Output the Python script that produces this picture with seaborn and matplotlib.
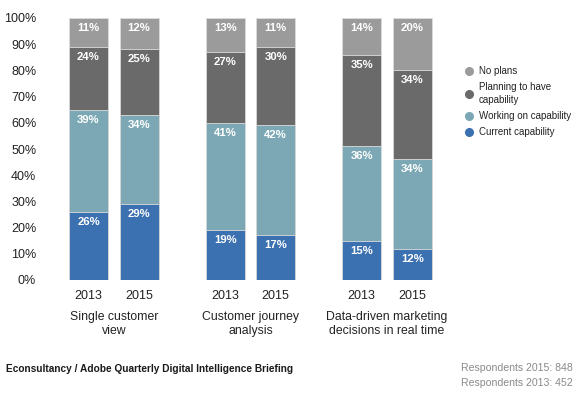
import numpy as np
import pandas as pd
import matplotlib
matplotlib.use("Agg")
import matplotlib.pyplot as plt
from matplotlib.lines import Line2D
import seaborn as sns

# ---- data ----
groups = ["Single customer\nview", "Customer journey\nanalysis", "Data-driven marketing\ndecisions in real time"]
years = ["2013", "2015"]
series = ["No plans", "Planning to have\ncapability", "Working on capability", "Current capability"]
current = [26, 29, 19, 17, 15, 12]
working = [39, 34, 41, 42, 36, 34]
planning = [24, 25, 27, 30, 35, 34]
no_plans = [11, 12, 13, 11, 14, 20]
positions = [0, 1, 2.7, 3.7, 5.4, 6.4]

colors = {"no": "#9b9b9b", "plan": "#6a6a6a", "work": "#7ba8b4", "cur": "#3b71b1"}

sns.set_theme(style="white")
plt.rcParams["font.family"] = ["Liberation Sans", "DejaVu Sans"]

fig = plt.figure(figsize=(5.8, 3.95), dpi=100)
ax = fig.add_axes([48 / 580, 115 / 395, (442.7 - 48) / 580, 262 / 395])

layers = [current, working, planning, no_plans]
cum = np.cumsum(np.array(layers, dtype=float), axis=0)
layer_colors = [colors["cur"], colors["work"], colors["plan"], colors["no"]]

# draw from top (full stack) down
for i in range(3, -1, -1):
    df = pd.DataFrame({"pos": positions, "val": cum[i]})
    sns.barplot(data=df, x="pos", y="val", native_scale=True, width=0.77,
                color=layer_colors[i], saturation=1, edgecolor="#dcdcdc",
                linewidth=0.6, ax=ax, errorbar=None)

# segment labels
for i in range(4):
    for j, p in enumerate(positions):
        ax.annotate(f"{layers[i][j]}%", xy=(p, cum[i][j]), xytext=(0, -10),
                    textcoords="offset pixels", ha="center", va="center",
                    color="white", fontsize=8.2, fontweight="bold")

ax.set_xlim(-0.8, 7.0)
ax.set_ylim(0, 100)
ax.set_yticks(np.arange(0, 101, 10))
ax.set_yticklabels([f"{v}%" for v in range(0, 101, 10)])
ax.set_xticks(positions)
ax.set_xticklabels(years * 3)
ax.tick_params(axis="y", length=0, pad=8.5, labelsize=9, labelcolor="#222222")
ax.tick_params(axis="x", length=0, pad=7, labelsize=9, labelcolor="#222222")
ax.set_xlabel("")
ax.set_ylabel("")
for s in ax.spines.values():
    s.set_visible(False)

# group labels
for g, lab in enumerate(groups):
    cx = (positions[2 * g] + positions[2 * g + 1]) / 2
    ax.annotate(lab, xy=(cx, 0), xycoords=("data", "axes fraction"),
                xytext=(0, -44), textcoords="offset pixels", ha="center",
                va="center", fontsize=8.8, color="#222222", linespacing=1.3)

# legend
handles = [Line2D([], [], marker="o", linestyle="", markersize=5.5,
                  markerfacecolor=c, markeredgecolor=c)
           for c in [colors["no"], colors["plan"], colors["work"], colors["cur"]]]
leg = fig.legend(handles, series, loc="upper left", bbox_to_anchor=(465 / 580, 1 - 66 / 395),
                 frameon=False, fontsize=7.0, handlelength=0.8, handletextpad=0.6,
                 labelspacing=0.6, borderpad=0, borderaxespad=0)
for t in leg.get_texts():
    t.set_color("#222222")
    t.set_linespacing(1.45)

# footer
fig.text(6 / 580, 1 - 369 / 395, "Econsultancy / Adobe Quarterly Digital Intelligence Briefing",
         fontsize=7.3, fontweight="bold", color="#1a1a1a", va="center", ha="left")
fig.text(573 / 580, 1 - 368 / 395, "Respondents 2015: 848", fontsize=7.6,
         color="#8a8a8a", va="center", ha="right")
fig.text(573 / 580, 1 - 383 / 395, "Respondents 2013: 452", fontsize=7.6,
         color="#8a8a8a", va="center", ha="right")

fig.savefig("out.png", dpi=100)
